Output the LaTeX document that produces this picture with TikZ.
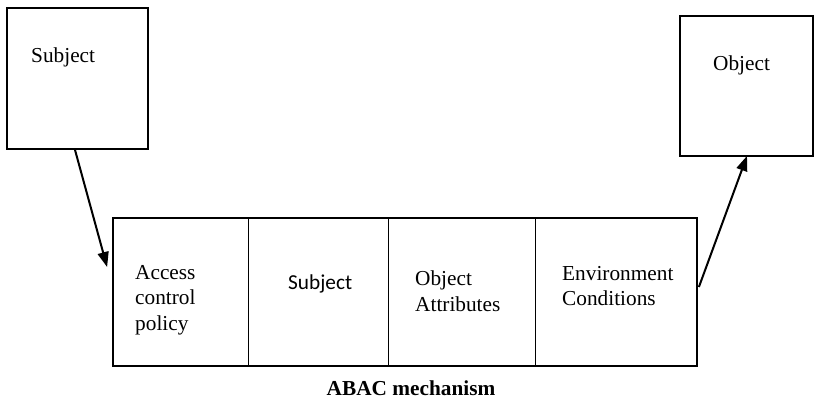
\documentclass[tikz,border=0pt]{standalone}
\usepackage{fontspec}
\setmainfont{Liberation Serif}
\newfontfamily\calibrifont{Carlito}
\usetikzlibrary{arrows.meta}
\begin{document}
\begin{tikzpicture}[x=1pt,y=-1pt,
  every node/.style={font=\fontsize{21.3}{25.5}\selectfont},
  box/.style={draw,line width=1.8pt,inner sep=0pt},
  cell/.style={inner sep=0pt},
  divider/.style={line width=0.9pt},
  label/.style={inner sep=0pt,align=left,anchor=north west},
  link/.style={line width=2pt,-{Triangle[length=15pt,width=11pt]}}]
\useasboundingbox (0,0) rectangle (815,401);
% outer boxes
\node[box,minimum width=141pt,minimum height=141pt] (subj) at (77.5,78.5) {};
\node[box,minimum width=133pt,minimum height=140pt] (obj) at (746.5,86) {};
\node[inner sep=0pt,anchor=base west] (subjtxt) at (31,63) {Subject};
\node[inner sep=0pt,anchor=base west] (objtxt) at (713,71) {Object};
% mechanism cells
\node[cell,minimum width=135pt,minimum height=148pt] (c1) at (180.5,292) {};
\node[cell,minimum width=140pt,minimum height=148pt] (c2) at (318,292) {};
\node[cell,minimum width=147pt,minimum height=148pt] (c3) at (461.5,292) {};
\node[cell,minimum width=162pt,minimum height=148pt] (c4) at (616,292) {};
\node[box,minimum width=584pt,minimum height=148pt] (main) at (405,292) {};
\draw[divider] (c1.north east) -- (c1.south east);
\draw[divider] (c2.north east) -- (c2.south east);
\draw[divider] (c3.north east) -- (c3.south east);
% cell texts
\node[label] (t1) at (135,265) {Access\\control\\policy};
\node[inner sep=0pt,anchor=base west,font=\calibrifont\fontsize{21.3}{25.5}\selectfont] (t2) at (288,290) {Subject};
\node[label] (t3) at (415,271) {Object\\Attributes};
\node[label] (t4) at (562,266) {Environment\\Conditions};
\node[inner sep=0pt,anchor=base,font=\bfseries\fontsize{21.3}{25.5}\selectfont] (cap) at (411,395) {ABAC mechanism};
% connectors
\draw[link] ([xshift=-2.5pt]subj.south) -- ([xshift=-5pt,yshift=25pt]main.west);
\draw[link] ([xshift=1pt,yshift=5pt]main.east) -- ([xshift=0.5pt,yshift=1pt]obj.south);
\end{tikzpicture}
\end{document}
